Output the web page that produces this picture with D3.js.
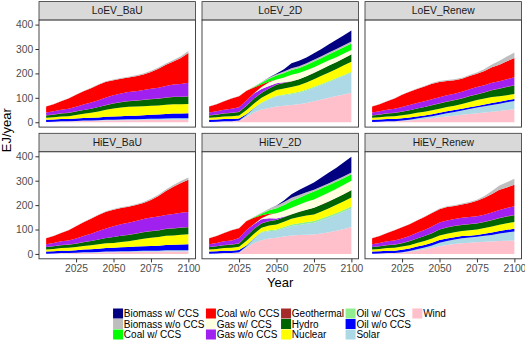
<!DOCTYPE html>
<html>
<head>
<meta charset="utf-8">
<script src="https://cdn.jsdelivr.net/npm/d3@7"></script>
<style>
  body { margin: 0; background: #fff; }
  svg text { font-family: "Liberation Sans", Arial, sans-serif; }
</style>
</head>
<body>
<script>
// years of the model runs
const years = [2005, 2010, 2015, 2020, 2025, 2030, 2035, 2040, 2045, 2050,
               2055, 2060, 2065, 2070, 2075, 2080, 2085, 2090, 2095, 2100];

// legend order (first one is drawn on top of the stack)
const fuels = ['Biomass w/ CCS', 'Biomass w/o CCS', 'Coal w/ CCS', 'Coal w/o CCS',
               'Gas w/ CCS', 'Gas w/o CCS', 'Geothermal', 'Hydro', 'Nuclear',
               'Oil w/ CCS', 'Oil w/o CCS', 'Solar', 'Wind'];
const fuelColors = ['#000080', '#BEBEBE', '#00FF00', '#FF0000', '#FFFFE0', '#A020F0', '#A52A2A',
                    '#006400', '#FFFF00', '#90EE90', '#0000FF', '#ADD8E6', '#FFC0CB'];

const panelNames = ['LoEV_BaU', 'LoEV_2D', 'LoEV_Renew', 'HiEV_BaU', 'HiEV_2D', 'HiEV_Renew'];
const yTicks = [0, 100, 200, 300, 400];
const xTicks = [2025, 2050, 2075, 2100];

// EJ/year, one row per fuel in legend order
const loevBau = [
  [0,0,0,0,0,0,0,0,0,0,0,0,0,0,0,0,0,0,0,0],
  [1,1,1,1,1,1,2,2,2,3,3,3,4,4,5,5,6,6,7,8],
  [0,0,0,0,0,0,0,0,0,0,0,0,0,0,0,0,0,0,0,0],
  [25,29,34,42,49,54,59,63,64,62,60,59,61,64,69,78,87,94,107,122],
  [0,0,0,0,0,0,0,0,0,0,0,0,0,0,0,0,0,0,0,0],
  [11,13,15,17,19,22,25,28,31,33,35,37,38,40,42,44,47,50,52,55],
  [0.5,0.5,0.5,0.5,0.5,0.5,0.5,0.5,0.5,0.5,1,1,1,1,1,1,1,1.5,1.5,1.5],
  [10,11,12,13,14,15,16,18,19,21,22,23,24,25,26,27,28,29,29,30],
  [8,9,11,12,15,18,21,25,29,33,35,36,37,37,37,37,38,38,38,38],
  [0,0,0,0,0,0,0,0,0,0,0,0,0,0,0,0,0,0,0,0],
  [9,9,9,9,10,10,11,11,12,13,14,15,15,16,17,18,19,20,20,21],
  [0,0,1,1,1,2,2,2,3,3,3,4,4,4,5,5,5,6,6,6],
  [1,2,3,3,4,5,5,6,7,7,8,8,8,9,9,9,10,10,10,10]
];

const loev2d = [
  [0,0,0,0,0,0,0,0,1,3,10,20,22,24,27,30,34,37,41,45],
  [1,1,1,1,1,1,2,3,4,5,6,7,7,7,7,7,7,8,8,8],
  [0,0,0,0,0,0,2,7,12,16,18,20,21,22,23,24,25,26,26,27],
  [25,29,34,42,45,40,24,10,3,0,0,0,0,0,0,0,0,0,0,0],
  [0,0,0,0,0,0,1,8,15,16,20,27,25,24,23,22,21,20,19,17],
  [11,13,15,17,19,21,20,16,10,5,2,0,0,0,0,0,0,0,0,0],
  [0.5,0.5,0.5,0.5,0.5,0.5,0.5,0.5,0.5,0.5,0.5,0.5,0.5,0.5,0.5,0.5,0.5,0.5,0.5,0.5],
  [10,11,12,13,14,18,20,20,21,22,23,23,24,25,26,27,28,28,29,30],
  [8,9,11,12,13,16,18,19,21,23,24,25,27,29,31,33,35,37,39,41],
  [0,0,0,0,0,1,2,2,3,3,3,4,4,4,4,4,4,4,4,4],
  [9,9,9,9,8,3,1,0,0,0,0,0,0,0,0,0,0,0,0,0],
  [0,0,1,1,2,8,16,27,35,42,43,44,47,51,55,60,65,70,76,82],
  [1,2,3,3,5,22,40,52,58,64,68,71,74,79,86,93,100,107,114,121]
];

const loevRenew = [
  [0,0,0,0,0,0,0,0,0,0,0,0,0,0,0,0,0,0,0,0],
  [1,1,1,1,1,1,2,2,3,4,4,4,4,5,5,8,12,16,19,23],
  [0,0,0,0,0,0,0,0,0,0,0,0,0,0,0,0,0,0,0,0],
  [25,29,34,42,50,54,58,61,63,62,58,55,53,54,55,58,63,68,74,79],
  [0,0,0,0,0,0,0,0,0,0,0,0,0,0,0,0,0,0,0,0],
  [11,13,15,17,19,21,22,23,24,25,26,26,27,28,29,29,30,30,31,32],
  [0.5,0.5,0.5,0.5,0.5,0.5,0.5,0.5,0.5,0.5,1,1,1,1,1,1,1,1,1,1],
  [10,11,12,13,14,16,17,19,21,22,22,22,22,23,23,25,28,31,33,35],
  [8,9,11,12,13,14,15,15,16,16,17,18,20,22,24,24,24,22,21,21],
  [0,0,0,0,0,0,0,0,0,0,0,0,0,0,0,0,0,0,0,0],
  [9,9,9,9,9,9,9,8,8,8,8,8,7,7,7,7,8,8,8,8],
  [0,0,1,1,2,3,5,7,9,11,13,15,17,20,23,26,28,30,32,34],
  [1,2,3,3,5,7,10,13,16,20,24,27,31,34,37,40,43,46,50,53]
];

const hievBau = [
  [0,0,0,0,0,0,0,0,0,0,0,0,0,0,0,0,0,0,0,0],
  [1,1,1,1,1,1,2,2,2,3,3,3,4,4,5,5,6,7,8,10],
  [0,0,0,0,0,0,0,0,0,0,0,0,0,0,0,0,0,0,0,0],
  [25,29,34,42,50,56,62,66,68,68,66,65,65,66,72,84,98,112,122,132],
  [0,0,0,0,0,0,0,0,0,0,0,0,0,0,0,0,0,0,0,0],
  [11,13,15,17,21,25,29,34,39,44,47,49,51,53,55,56,57,58,60,61],
  [0.5,0.5,0.5,0.5,0.5,0.5,0.5,0.5,0.5,0.5,1,1,1,1,1,1,1,1.5,1.5,1.5],
  [10,11,12,13,14,15,17,19,21,24,25,26,26,27,27,27,28,28,28,28],
  [8,9,11,12,13,15,17,19,20,20,22,24,27,30,33,35,37,38,40,41],
  [0,0,0,0,0,0,0,0,0,0,0,0,0,0,0,0,0,0,0,0],
  [9,9,9,9,10,11,12,13,14,15,16,17,18,19,20,21,22,23,24,25],
  [0,0,1,1,1,2,2,2,3,3,3,3,4,4,4,4,5,5,5,5],
  [1,2,3,3,4,5,5,6,7,7,8,8,8,9,9,9,10,10,10,10]
];

const hiev2d = [
  [0,0,0,0,0,0,0,0,0,1,6,14,20,25,30,37,44,50,57,65],
  [1,1,1,1,1,1,2,4,7,10,12,14,12,9,7,7,7,7,7,7],
  [0,0,0,0,0,0,2,6,14,21,24,27,28,30,32,32,31,29,28,27],
  [25,29,34,42,40,36,26,12,4,0,0,0,0,0,0,0,0,0,0,0],
  [0,0,0,0,0,0,1,4,14,21,24,27,29,32,34,35,36,37,38,38],
  [11,13,15,17,22,25,18,17,12,6,2,0,0,0,0,0,0,0,0,0],
  [0.5,0.5,0.5,0.5,0.5,0.5,0.5,0.5,0.5,0.5,0.5,0.5,0.5,0.5,0.5,0.5,0.5,0.5,0.5,0.5],
  [10,11,12,13,14,19,20,18,18,18,18,18,21,24,27,28,28,29,29,30],
  [8,9,11,12,13,18,18,16,19,21,22,23,25,26,27,29,31,33,35,37],
  [0,0,0,0,0,1,2,3,4,4,5,7,7,7,7,7,7,7,7,7],
  [9,9,9,9,9,4,1,0,0,0,0,0,0,0,0,0,0,0,0,0],
  [0,0,1,1,2,6,17,32,30,30,34,38,41,45,48,54,60,66,72,77],
  [1,2,3,3,5,25,45,56,63,66,71,76,78,79,80,84,89,95,102,110]
];

const hievRenew = [
  [0,0,0,0,0,0,0,0,0,0,0,0,0,0,0,0,0,0,0,0],
  [1,1,1,1,1,1,1,2,2,3,3,3,4,4,4,7,12,18,21,25],
  [0,0,0,0,0,0,0,0,0,0,0,0,0,0,0,0,0,0,0,0],
  [25,29,34,42,46,48,50,53,55,55,55,53,55,58,64,69,76,82,84,88],
  [0,0,0,0,0,0,0,0,0,0,0,0,0,0,0,0,0,0,0,0],
  [11,13,15,17,19,21,23,25,27,28,28,28,28,28,28,29,31,33,34,36],
  [0.5,0.5,0.5,0.5,0.5,0.5,0.5,0.5,0.5,0.5,1,1,1,1,1,1,1,1.5,1.5,1.5],
  [10,11,12,13,14,16,18,20,22,24,25,25,25,25,25,25,26,26,27,27],
  [8,9,11,12,13,14,15,16,17,19,20,21,21,22,22,23,24,26,27,28],
  [0,0,0,0,0,0,0,0,0,0,0,0,0,0,0,0,0,0,0,0],
  [9,9,9,9,10,10,11,11,11,11,10,9,9,8,8,9,10,10,11,11],
  [0,0,1,1,2,3,5,7,10,14,16,18,20,21,22,24,27,31,34,37],
  [1,2,3,3,5,9,14,19,25,32,37,41,44,46,48,50,51,53,54,55]
];

const panelData = [loevBau, loev2d, loevRenew, hievBau, hiev2d, hievRenew];

// layout
const w = 525, h = 340;
const left = 39, right = 521.5, gapX = 6.5;
const pw = (right - left - 2 * gapX) / 3;
const stripH = 18.5, ph = 107;
const stripTop = [1.6, 133.3];

const svg = d3.select('body').append('svg')
  .attr('width', w)
  .attr('height', h);

// stack every panel: bottom of the stack is the last fuel
const keys = fuels.slice().reverse();
const stacks = panelData.map(rows => {
  const table = years.map((yr, j) => {
    const o = { year: yr };
    fuels.forEach((f, i) => o[f] = rows[i][j]);
    return o;
  });
  return d3.stack().keys(keys)(table);
});

const maxTotal = d3.max(stacks, s => d3.max(s[s.length - 1], d => d[1]));
const yScale = d3.scaleLinear()
  .domain([-0.05 * maxTotal, 1.05 * maxTotal])
  .range([ph, 0]);

const xRange = d3.max(years) - d3.min(years);
const xScale = d3.scaleLinear()
  .domain([d3.min(years) - 0.05 * xRange, d3.max(years) + 0.05 * xRange])
  .range([0, pw]);

const colorOf = d3.scaleOrdinal().domain(fuels).range(fuelColors);

const area = d3.area()
  .x(d => xScale(d.data.year))
  .y0(d => yScale(d[0]))
  .y1(d => yScale(d[1]));

panelNames.forEach((name, k) => {
  const row = Math.floor(k / 3), col = k % 3;
  const x0 = left + col * (pw + gapX);
  const top = stripTop[row];

  const g = svg.append('g')
    .attr('transform', 'translate(' + x0 + ',' + top + ')');

  // strip
  g.append('rect')
    .attr('width', pw)
    .attr('height', stripH)
    .attr('fill', '#D9D9D9')
    .attr('stroke', '#333333')
    .attr('stroke-width', 0.8);
  g.append('text')
    .attr('x', pw / 2)
    .attr('y', stripH / 2 + 3.6)
    .attr('text-anchor', 'middle')
    .attr('font-size', 10.3)
    .attr('fill', '#1A1A1A')
    .text(name);

  const p = g.append('g')
    .attr('transform', 'translate(0,' + stripH + ')');

  p.append('clipPath')
    .attr('id', 'clip' + k)
    .append('rect')
    .attr('width', pw)
    .attr('height', ph);

  p.append('rect')
    .attr('width', pw)
    .attr('height', ph)
    .attr('fill', '#fff');

  p.append('g')
    .attr('clip-path', 'url(#clip' + k + ')')
    .selectAll('path')
    .data(stacks[k])
    .enter()
    .append('path')
    .attr('d', area)
    .attr('fill', d => colorOf(d.key));

  p.append('rect')
    .attr('width', pw)
    .attr('height', ph)
    .attr('fill', 'none')
    .attr('stroke', '#333333')
    .attr('stroke-width', 0.9);

  if (col === 0) {
    const ya = p.append('g')
      .call(d3.axisLeft(yScale).tickValues(yTicks).tickSize(3.6).tickPadding(2.2));
    ya.select('.domain').remove();
    ya.selectAll('line').attr('stroke', '#333333');
    ya.selectAll('text').attr('fill', '#4D4D4D').attr('font-size', 10.3)
      .attr('font-family', '"Liberation Sans", Arial, sans-serif');
  }
  if (row === 1) {
    const xa = p.append('g')
      .attr('transform', 'translate(0,' + ph + ')')
      .call(d3.axisBottom(xScale).tickValues(xTicks).tickFormat(d3.format('d')).tickSize(3.6).tickPadding(2.6));
    xa.select('.domain').remove();
    xa.selectAll('line').attr('stroke', '#333333');
    xa.selectAll('text').attr('fill', '#4D4D4D').attr('font-size', 10.3)
      .attr('font-family', '"Liberation Sans", Arial, sans-serif');
  }
});

// axis titles
const midX = (left + right) / 2;
svg.append('text')
  .attr('x', midX)
  .attr('y', 287)
  .attr('text-anchor', 'middle')
  .attr('font-size', 13)
  .attr('fill', '#000')
  .text('Year');

svg.append('text')
  .attr('transform', 'translate(11,' + ((stripTop[0] + stripTop[1] + stripH + ph) / 2) + ') rotate(-90)')
  .attr('text-anchor', 'middle')
  .attr('font-size', 13)
  .attr('fill', '#000')
  .text('EJ/year');

// legend: 3 rows, filled column by column
const keyS = 10, rowStep = 10.5, legendTop = 308.5;
const legend = svg.append('g');
const nRows = 3;
const nCols = Math.ceil(fuels.length / nRows);
let cx = 0;
for (let c = 0; c < nCols; c++) {
  let maxW = 0;
  for (let r = 0; r < nRows; r++) {
    const i = c * nRows + r;
    if (i >= fuels.length) break;
    const item = legend.append('g')
      .attr('transform', 'translate(' + cx + ',' + (legendTop + r * rowStep) + ')');
    item.append('rect')
      .attr('width', keyS)
      .attr('height', keyS)
      .attr('fill', fuelColors[i]);
    const t = item.append('text')
      .attr('x', keyS + 0.8)
      .attr('y', keyS / 2 + 3.6)
      .attr('font-size', 10)
      .attr('fill', '#000')
      .text(fuels[i]);
    maxW = Math.max(maxW, t.node().getComputedTextLength());
  }
  cx += keyS + 0.8 + maxW + 1.5;
}
legend.attr('transform', 'translate(' + (midX - cx / 2) + ',0)');
</script>
</body>
</html>
